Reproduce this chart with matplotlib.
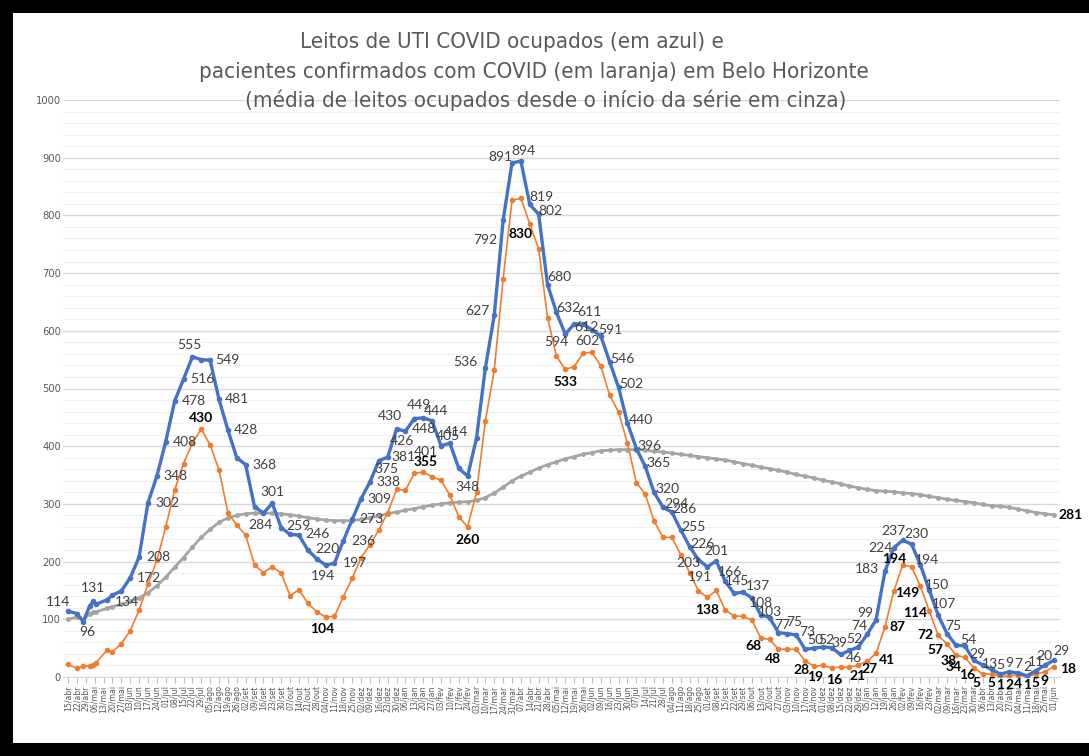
# Leitos de UTI COVID em Belo Horizonte
# recriacao do grafico do excel (datas, leitos, confirmados e media)
import matplotlib
matplotlib.use("Agg")
import matplotlib.pyplot as plt
from matplotlib.patches import Rectangle
import pandas as pd

# datas das medicoes: no inicio algumas datas soltas, depois semanal (quartas)
early_dates = ['2020-04-15', '2020-04-22', '2020-04-27', '2020-05-02',
               '2020-05-05', '2020-05-07', '2020-05-16']
weekly_start = '2020-05-20'
last_date = '2022-06-01'

# leitos de UTI COVID ocupados (azul)
uti = [114, 110, 96, 123, 131, 126, 134,
       142, 149, 172, 208, 302, 348, 408, 478, 516, 555,
       550, 549, 481, 428, 380, 368, 295, 284, 301, 259,
       247, 246, 220, 205, 194, 197, 236, 273, 309, 338,
       375, 381, 430, 426, 448, 449, 444, 401, 405, 362,
       348, 414, 536, 627, 792, 891, 894, 819, 802, 680,
       632, 594, 612, 611, 602, 591, 546, 502, 440, 396,
       365, 320, 294, 286, 255, 226, 203, 191, 201, 166,
       145, 147, 137, 108, 103, 77, 75, 73, 48, 50,
       52, 51, 39, 46, 52, 74, 99, 183, 224, 237,
       230, 194, 150, 107, 75, 55, 54, 29, 21, 13,
       5, 9, 7, 2, 11, 20, 29]

# pacientes confirmados (laranja)
confirmados = [22, 15, 19, 19, 21, 25, 47,
               43, 58, 80, 116, 161, 202, 260, 324, 370, 405,
               430, 402, 359, 285, 263, 246, 194, 181, 191, 180,
               141, 151, 128, 113, 104, 105, 139, 171, 207, 229,
               255, 285, 325, 324, 353, 355, 347, 341, 315, 278,
               260, 320, 444, 532, 690, 826, 830, 785, 742, 623,
               556, 533, 538, 561, 563, 539, 488, 459, 405, 337,
               317, 270, 242, 242, 212, 181, 149, 138, 150, 116,
               106, 105, 99, 68, 65, 48, 48, 48, 28, 19,
               20, 16, 17, 17, 21, 27, 41, 87, 149, 194,
               191, 157, 114, 72, 57, 38, 34, 16, 5, 5,
               1, 2, 4, 1, 5, 9, 18]

# media de leitos ocupados desde o inicio (cinza)
media = [100, 104, 99, 110, 112, 113, 119,
         122, 126, 131, 137, 146, 158, 173, 190, 207, 225,
         242, 256, 268, 276, 280, 283, 284, 284, 284, 283,
         281, 279, 276, 274, 272, 271, 271, 271, 273, 276,
         279, 283, 286, 289, 292, 295, 298, 300, 302, 303,
         304, 306, 311, 319, 329, 340, 348, 355, 362, 368,
         373, 378, 382, 386, 389, 392, 393, 394, 394, 394,
         393, 391, 390, 388, 386, 384, 382, 380, 378, 376,
         373, 370, 367, 364, 361, 358, 355, 351, 348, 345,
         341, 338, 335, 331, 328, 325, 323, 322, 321, 319,
         318, 316, 313, 311, 308, 306, 304, 302, 299, 297,
         296, 294, 291, 288, 285, 283, 281]

meses = ['jan', 'fev', 'mar', 'abr', 'mai', 'jun',
         'jul', 'ago', 'set', 'out', 'nov', 'dez']

title_lines = ['Leitos de UTI COVID ocupados (em azul) e',
               'pacientes confirmados com COVID (em laranja) em Belo Horizonte',
               '(média de leitos ocupados desde o início da série em cinza)']

dates = pd.to_datetime(early_dates).append(pd.date_range(weekly_start, last_date, freq='7D'))
ticks = pd.date_range(early_dates[0], last_date, freq='7D')
tick_labels = [f"{d.day:02d}/{meses[d.month - 1]}" for d in ticks]

LABF = ['Lato', 'DejaVu Sans']
plt.rcParams['font.family'] = ['DejaVu Sans']
plt.rcParams['font.stretch'] = 'condensed'

BLUE = '#4472C4'
ORANGE = '#ED7D31'
GRAY = '#A5A5A5'

W, H = 1089, 756
fig = plt.figure(figsize=(W / 100, H / 100), dpi=100, facecolor='black')
# fundo branco dentro da moldura preta (sem borda do lado direito)
fig.patches.append(Rectangle((13 / W, 13 / H), (W - 13) / W, (743 - 13) / H,
                             transform=fig.transFigure, facecolor='white',
                             edgecolor='none', zorder=-5))

ax = fig.add_axes([63 / W, (H - 677) / H, (1060 - 63) / W, (677 - 100) / H])
ax.set_facecolor('none')
ax.set_zorder(1)

ax.plot(dates, media, color=GRAY, lw=2.0, marker='o', ms=2.5, zorder=2)
ax.plot(dates, confirmados, color=ORANGE, lw=1.2, marker='o', ms=3, zorder=3)
ax.plot(dates, uti, color=BLUE, lw=2.4, marker='o', ms=3, zorder=4)

ax.set_ylim(0, 1000)
ax.set_xlim(pd.Timestamp(early_dates[0]) - pd.Timedelta(days=4),
            pd.Timestamp(last_date) + pd.Timedelta(days=5))
ax.set_yticks(range(0, 1001, 100))
ax.set_yticks(range(0, 1001, 20), minor=True)
ax.grid(which='major', axis='y', color='#d9d9d9', lw=1.0, zorder=0)
ax.grid(which='minor', axis='y', color='#f0f0f0', lw=0.8, zorder=0)
ax.set_axisbelow(True)
ax.tick_params(axis='y', which='both', length=0, pad=1.5, labelsize=8, labelcolor='#595959')
ax.set_xticks(ticks)
ax.set_xticklabels(tick_labels, rotation=90, fontsize=6.2, color='#595959')
ax.tick_params(axis='x', length=4, color='#bfbfbf', pad=2)
for s in ['top', 'right', 'left']:
    ax.spines[s].set_visible(False)
ax.spines['bottom'].set_color('#d9d9d9')


def W2I(w):
    # indice no array a partir da semana (semana 5 em diante)
    return w + 2


def lab(vals, i, dx, dy, bold=False, color='#404040'):
    ax.annotate(str(vals[i]), (dates[i], vals[i]), xytext=(dx * 0.72, dy * 0.72),
                textcoords='offset points', ha='center', va='center',
                fontsize=10, family=LABF, color=color,
                fontweight='bold' if bold else 'normal', zorder=6)


# rotulos da serie azul (deslocamento em pixels)
blue_pos = {0: (-10, 9), 2: (4, -10), 4: (0, 13), 6: (20, -2)}
for w in range(7, 14):
    blue_pos[W2I(w)] = (19, 0)
blue_w = {14: (-3, 12), 16: (17, 0), 17: (18, 0), 18: (18, 0), 20: (19, 0),
          22: (-3, -12), 23: (0, 11), 24: (17, 2), 26: (19, 1), 27: (20, 1),
          29: (-3, -11), 30: (20, 0), 31: (20, 0), 32: (19, 0), 33: (18, 0),
          34: (18, 0), 35: (8, -8), 36: (16, 0), 37: (-7, 13), 38: (-3, -10),
          39: (10, -10), 40: (-4, 13), 41: (4, 10), 42: (-15, -6), 43: (-2, 7),
          45: (0, -11), 46: (-21, 6), 47: (-20, 6), 48: (-17, 4), 49: (-18, -20),
          50: (-12, 6), 51: (3, 10), 52: (12, 7), 53: (12, 3), 54: (12, 8),
          55: (12, 4), 56: (-9, -8), 57: (12, -3), 58: (6, 12), 59: (-5, -11),
          60: (10, 6), 71: (-10, -3), 72: (-7, -10), 73: (0, 10), 74: (5, 9),
          75: (3, 12), 77: (6, 12), 78: (0, 12), 79: (0, 6), 80: (4, 8),
          81: (7, 12), 82: (11, 3), 84: (1, 8), 85: (4, 7), 87: (-1, 11),
          88: (4, -8), 89: (-4, 8), 90: (-8, 8), 91: (-11, 7), 92: (-18, 2),
          93: (-13, 0), 94: (-9, 9), 95: (5, 10), 96: (7, 5), 97: (8, 5),
          98: (6, 11), 99: (6, 8), 101: (3, 6), 102: (4, 6), 104: (-2, 5),
          111: (8, 9)}
for w in range(61, 71):
    blue_w[w] = (13, 3)
for w in range(105, 111):
    blue_w[w] = (0, 9)
for w, p in blue_w.items():
    blue_pos[W2I(w)] = p
for i, (dx, dy) in blue_pos.items():
    lab(uti, i, dx, dy)

# rotulos da serie laranja
orange_w = {15: (0, 11), 29: (-3, -12), 40: (2, 10), 45: (0, -13), 51: (0, -36),
            56: (0, -13), 72: (0, -13), 78: (-7, -8), 80: (-5, -10), 83: (-4, -9),
            84: (1, -11), 86: (2, -12), 89: (-1, -11), 90: (2, -8), 91: (11, -7),
            92: (13, 0), 93: (13, -2), 94: (-8, 6), 97: (-14, -2), 98: (-13, 0),
            99: (-12, -6), 100: (-7, -6), 101: (-11, -10), 102: (-7, -7),
            103: (-6, -9), 111: (14, -2)}
for w in range(104, 111):
    orange_w[w] = (0, -9)
for w, (dx, dy) in orange_w.items():
    lab(confirmados, W2I(w), dx, dy, bold=True, color='black')

# ultimo valor da media
lab(media, len(media) - 1, 17, 0, bold=True, color='black')

# titulo
title_x = [512, 534, 546]
title_y = [42, 72, 100]
for t, x, y in zip(title_lines, title_x, title_y):
    fig.text(x / W, 1 - y / H, t, ha='center', va='center', fontsize=16, color='#595959')

fig.savefig('out.png', dpi=100, facecolor=fig.get_facecolor())
